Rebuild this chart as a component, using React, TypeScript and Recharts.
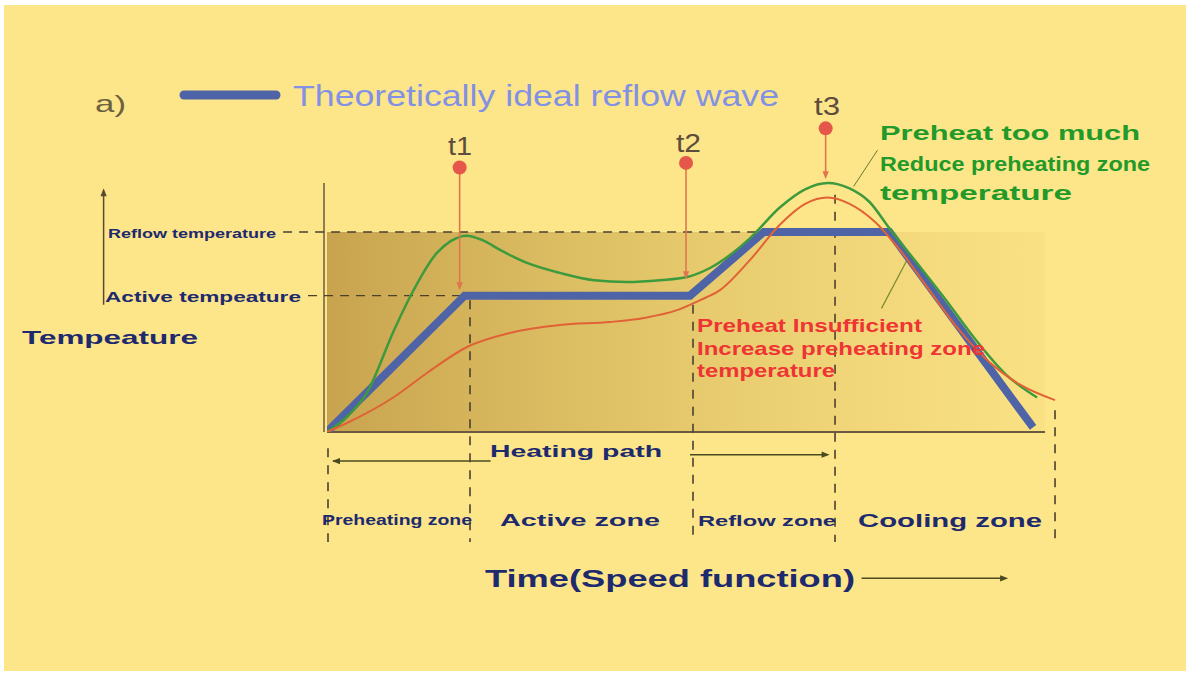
import React from "react";
import {
  ComposedChart,
  Line,
  XAxis,
  YAxis,
  ReferenceLine,
  ReferenceDot,
  ReferenceArea,
  Legend,
} from "recharts";

// time axis runs 0..370, temperature 0..385 (arbitrary units)
const ACTIVE_TEMP = 150;
const REFLOW_TEMP = 220;
const IDEAL_NAME = "Theoretically ideal reflow wave";

const idealTime = [0, 69, 182, 219, 282, 354];
const idealTemp = [0, 150, 150, 220, 220, 5];

const tooMuchTime = [0, 10, 20, 33.6, 41.6, 55.1, 62, 70, 78, 87, 100.3, 116.8, 133.9, 150.4, 167, 180.5, 192, 212, 227, 239.7, 251, 262, 272, 282, 295, 310, 325, 340, 356];
const tooMuchTemp = [0, 16.5, 43, 112, 148.5, 197, 210, 216, 211, 200, 186, 175, 167, 165, 167, 170.5, 180.4, 213, 247, 267, 274, 268, 253, 224, 188, 146, 102, 64, 38];

const notEnoughTime = [0, 10, 33.6, 50.1, 70.2, 91.7, 116.8, 141.9, 158.9, 175.5, 187, 197, 212, 227, 239.7, 251, 262, 274.8, 287.3, 302, 317, 332, 347.5, 365];
const notEnoughTemp = [0, 9.9, 38.5, 64.9, 93.5, 109, 117.7, 121, 125.4, 134, 145, 156, 189, 228, 251, 258, 251, 231, 200, 156, 112, 77, 52, 35];

// t1, t2, t3 markers: where the dot sits and where the arrow points to
const markerNames = ["t1", "t2", "t3"];
const markerTime = [66.5, 180, 250];
const markerTop = [291, 296, 334];
const markerTip = [156, 168, 278];

// zone boundaries along the time axis
const zoneEdges = [0.5, 71.7, 183.5, 254.7, 365];
const zoneEdgeTop = [-18, 145, 140, 261, 24];
const ZONE_BOTTOM = -121;

const toRows = (xs: number[], ys: number[]) => xs.map((time, i) => ({ time, temp: ys[i] }));
const idealData = toRows(idealTime, idealTemp);
const tooMuchData = toRows(tooMuchTime, tooMuchTemp);
const notEnoughData = toRows(notEnoughTime, notEnoughTemp);

const NAVY = "#1d2a6e";
const GUIDE = "#4b4030";
const PIN = "#e0764e";

const arrowHead = (dir: "up" | "down" | "left" | "right", color: string, size = 6) =>
  (props: any) => {
    const { cx, cy } = props;
    if (cx == null || cy == null) return <g />;
    let pts = "";
    if (dir === "right") pts = `${cx},${cy} ${cx - size * 1.6},${cy - size / 1.6} ${cx - size * 1.6},${cy + size / 1.6}`;
    if (dir === "left") pts = `${cx},${cy} ${cx + size * 1.6},${cy - size / 1.6} ${cx + size * 1.6},${cy + size / 1.6}`;
    if (dir === "up") pts = `${cx},${cy} ${cx - size / 1.6},${cy + size * 1.6} ${cx + size / 1.6},${cy + size * 1.6}`;
    if (dir === "down") pts = `${cx},${cy} ${cx - size / 1.6},${cy - size * 1.6} ${cx + size / 1.6},${cy - size * 1.6}`;
    return <polygon points={pts} fill={color} />;
  };

const pinDot = (props: any) => {
  const { cx, cy } = props;
  if (cx == null || cy == null) return <g />;
  return <circle cx={cx} cy={cy} r={7} fill="#e4574a" />;
};

const renderLegend = (props: any) => {
  const items = (props.payload || []).filter((p: any) => p.value === IDEAL_NAME);
  return (
    <svg width={640} height={40}>
      {items.map((p: any) => (
        <g key={p.value}>
          <line x1={8} y1={20} x2={100} y2={20} stroke={p.color} strokeWidth={9} strokeLinecap="round" />
          <text x={117} y={31} fontSize={29} fill="#8391e4" fontFamily="Liberation Sans, Arial, sans-serif"
            textLength={486} lengthAdjust="spacingAndGlyphs">
            {p.value}
          </text>
        </g>
      ))}
    </svg>
  );
};

type Note = { text: string; x: number; y: number; w: number; size: number; color: string; weight?: number; family?: string };

const notes: Note[] = [
  { text: "a)", x: 95, y: 112, w: 31, size: 24, color: "#6b6040", weight: 400 },
  { text: "t1", x: 448, y: 155, w: 24, size: 26, color: "#5c4d3c", weight: 400 },
  { text: "t2", x: 676, y: 152, w: 25, size: 26, color: "#5c4d3c", weight: 400 },
  { text: "t3", x: 814, y: 115, w: 26, size: 26, color: "#5c4d3c", weight: 400 },
  { text: "Preheat too much", x: 880, y: 140, w: 260, size: 20, color: "#229a2a" },
  { text: "Reduce preheating zone", x: 880, y: 171, w: 270, size: 20, color: "#229a2a" },
  { text: "temperature", x: 880, y: 200, w: 192, size: 20, color: "#229a2a" },
  { text: "Preheat Insufficient", x: 697, y: 332, w: 225, size: 19, color: "#ee3434" },
  { text: "Increase preheating zone", x: 697, y: 355, w: 288, size: 19, color: "#ee3434" },
  { text: "temperature", x: 697, y: 377, w: 138, size: 19, color: "#ee3434" },
  { text: "Tempeature", x: 22, y: 344, w: 176, size: 19, color: NAVY },
  { text: "Reflow temperature", x: 108, y: 238, w: 168, size: 12, color: NAVY },
  { text: "Active tempeature", x: 105, y: 302, w: 196, size: 15, color: NAVY },
  { text: "Heating path", x: 490, y: 457, w: 172, size: 17, color: NAVY },
  { text: "Preheating zone", x: 322, y: 525, w: 150, size: 14, color: NAVY },
  { text: "Active zone", x: 500, y: 526, w: 160, size: 17, color: NAVY },
  { text: "Reflow zone", x: 698, y: 526, w: 138, size: 15, color: NAVY },
  { text: "Cooling zone", x: 858, y: 527, w: 184, size: 18, color: NAVY },
  { text: "Time(Speed function)", x: 485, y: 587, w: 370, size: 23, color: NAVY },
];

export default function App() {
  return (
    <div style={{ position: "fixed", left: 0, top: 0, width: 1192, height: 677, background: "#ffffff" }}>
      <div style={{ position: "absolute", left: 4, top: 5, right: 6, bottom: 6, background: "#fde589" }} />
      <div style={{ position: "absolute", left: 0, top: 0 }}>
        <ComposedChart width={1192} height={677} margin={{ top: 82, right: 127, bottom: 245, left: 327 }}>
          <defs>
            <linearGradient id="zoneShade" x1="0" y1="0" x2="1" y2="0">
              <stop offset="0%" stopColor="#c29c48" stopOpacity={0.9} />
              <stop offset="45%" stopColor="#d9bb5e" stopOpacity={0.75} />
              <stop offset="100%" stopColor="#f4da7a" stopOpacity={0.4} />
            </linearGradient>
          </defs>
          <XAxis type="number" dataKey="time" domain={[0, 370]} hide allowDataOverflow />
          <YAxis type="number" dataKey="temp" domain={[0, 385]} hide allowDataOverflow />

          <ReferenceArea x1={0} x2={360} y1={0} y2={REFLOW_TEMP} fill="url(#zoneShade)" fillOpacity={1} stroke="none" />

          {/* axes of the sketch */}
          <ReferenceLine segment={[{ x: -1.5, y: 0 }, { x: -1.5, y: 274 }]} stroke="#6b5a40" strokeWidth={1.5} ifOverflow="visible" />
          <ReferenceLine segment={[{ x: 0, y: 0 }, { x: 360, y: 0 }]} stroke="#6b5a40" strokeWidth={2} ifOverflow="visible" />

          {/* temperature levels */}
          <ReferenceLine segment={[{ x: -22, y: REFLOW_TEMP }, { x: 222, y: REFLOW_TEMP }]} stroke={GUIDE} strokeDasharray="9 7" strokeWidth={1.3} ifOverflow="visible" />
          <ReferenceLine segment={[{ x: -9.5, y: ACTIVE_TEMP }, { x: 69, y: ACTIVE_TEMP }]} stroke={GUIDE} strokeDasharray="9 7" strokeWidth={1.3} ifOverflow="visible" />

          {/* zone boundaries */}
          {zoneEdges.map((x, i) => (
            <ReferenceLine key={`z${i}`} segment={[{ x, y: zoneEdgeTop[i] }, { x, y: ZONE_BOTTOM }]} stroke={GUIDE} strokeDasharray="9 8" strokeWidth={1.6} ifOverflow="visible" />
          ))}

          {/* temperature arrow on the left */}
          <ReferenceLine segment={[{ x: -112, y: 140 }, { x: -112, y: 262 }]} stroke="#5a4a30" strokeWidth={1.5} ifOverflow="visible" />
          <ReferenceDot x={-112} y={268} r={1} ifOverflow="visible" shape={arrowHead("up", "#5a4a30", 5)} />

          {/* heating path arrows */}
          <ReferenceLine segment={[{ x: 3, y: -32 }, { x: 82, y: -32 }]} stroke="#4a4a20" strokeWidth={1.5} ifOverflow="visible" />
          <ReferenceDot x={2.5} y={-32} r={1} ifOverflow="visible" shape={arrowHead("left", "#4a4a20", 5)} />
          <ReferenceLine segment={[{ x: 182, y: -25 }, { x: 250, y: -25 }]} stroke="#4a4a20" strokeWidth={1.5} ifOverflow="visible" />
          <ReferenceDot x={252} y={-25} r={1} ifOverflow="visible" shape={arrowHead("right", "#4a4a20", 5)} />

          {/* time arrow */}
          <ReferenceLine segment={[{ x: 268, y: -161 }, { x: 339, y: -161 }]} stroke="#4a4a20" strokeWidth={1.5} ifOverflow="visible" />
          <ReferenceDot x={341.5} y={-161} r={1} ifOverflow="visible" shape={arrowHead("right", "#4a4a20", 5)} />

          {/* leader lines from the notes */}
          <ReferenceLine segment={[{ x: 276, y: 310 }, { x: 264, y: 270 }]} stroke="#6b7a30" strokeWidth={1} ifOverflow="visible" />
          <ReferenceLine segment={[{ x: 278, y: 136 }, { x: 291, y: 190 }]} stroke="#7a8a30" strokeWidth={1.2} ifOverflow="visible" />

          <Line data={idealData} dataKey="temp" name={IDEAL_NAME} type="linear" stroke="#4f64a6" strokeWidth={8}
            strokeLinejoin="miter" dot={false} activeDot={false} isAnimationActive={false} />
          <Line data={tooMuchData} dataKey="temp" name="Preheat too much" type="monotone" stroke="#3d9a3d" strokeWidth={2.5}
            dot={false} activeDot={false} legendType="none" isAnimationActive={false} />
          <Line data={notEnoughData} dataKey="temp" name="Preheat insufficient" type="monotone" stroke="#e06235" strokeWidth={2}
            dot={false} activeDot={false} legendType="none" isAnimationActive={false} />

          {/* t1 / t2 / t3 pins */}
          {markerNames.map((n, i) => (
            <ReferenceLine key={`l${n}`} segment={[{ x: markerTime[i], y: markerTop[i] }, { x: markerTime[i], y: markerTip[i] + 6 }]} stroke={PIN} strokeWidth={1.6} ifOverflow="visible" />
          ))}
          {markerNames.map((n, i) => (
            <ReferenceDot key={`h${n}`} x={markerTime[i]} y={markerTip[i]} r={1} ifOverflow="visible" shape={arrowHead("down", PIN, 5)} />
          ))}
          {markerNames.map((n, i) => (
            <ReferenceDot key={`d${n}`} x={markerTime[i]} y={markerTop[i]} r={7} ifOverflow="visible" shape={pinDot} />
          ))}

          <Legend content={renderLegend} layout="horizontal" verticalAlign="middle" align="center"
            wrapperStyle={{ left: 176, top: 75, width: 640, height: 40 }} />
        </ComposedChart>
      </div>
      <svg width={1192} height={677} style={{ position: "absolute", left: 0, top: 0, pointerEvents: "none" }}>
        {notes.map((n) => (
          <text key={`${n.text}-${n.x}-${n.y}`} x={n.x} y={n.y} fontSize={n.size} fill={n.color}
            fontWeight={n.weight ?? 700} fontFamily={n.family ?? "Liberation Sans, Arial, sans-serif"}
            textLength={n.w} lengthAdjust="spacingAndGlyphs">
            {n.text}
          </text>
        ))}
      </svg>
    </div>
  );
}
